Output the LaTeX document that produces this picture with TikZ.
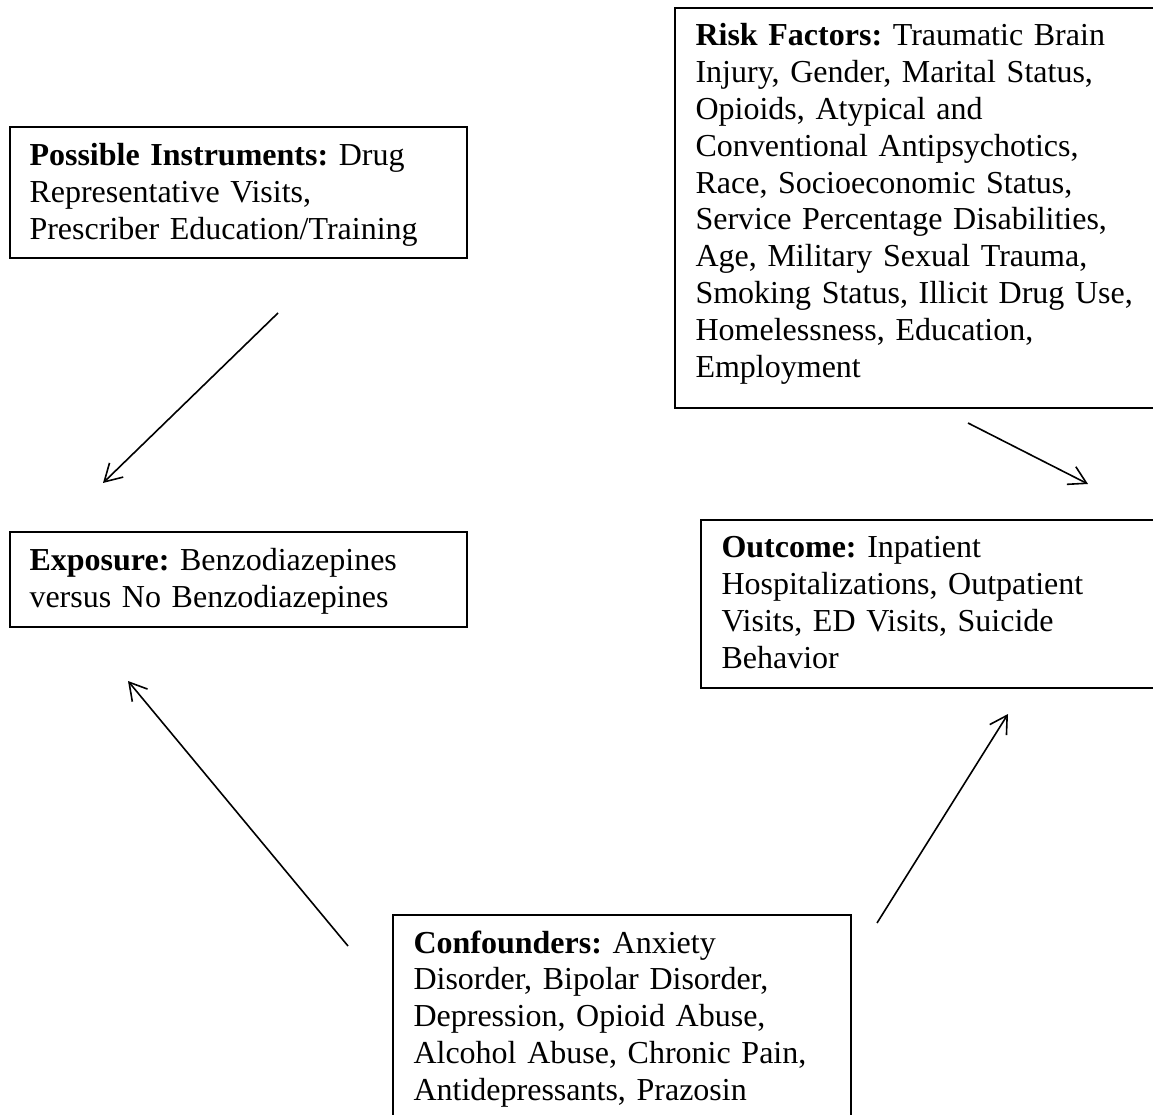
\documentclass[tikz,border=0pt]{standalone}
\usepackage{fontspec}
\setmainfont{Liberation Serif}
\usetikzlibrary{arrows.meta}
\frenchspacing
\begin{document}
\begin{tikzpicture}[x=0.375pt,y=-0.375pt,
  frame/.style={draw, line width=0.8pt, anchor=north west, inner sep=0pt},
  txt/.style={anchor=base west, inner sep=0pt, text width=180pt, align=left,
    font=\fontsize{12pt}{13.8pt}\selectfont},
  link/.style={line width=0.6pt, -{Straight Barb[length=6.4pt,width=7.4pt,line width=0.6pt]}}]
\clip (0,0) rectangle (1153,1115);
% boxes
\node[frame, minimum width=171.4pt, minimum height=49.1pt] (inst) at (9,126) {};
\node[txt] (instT) at (29,166) {\textbf{Possible Instruments:} Drug\\Representative Visits,\\Prescriber Education/Training};

\node[frame, minimum width=190pt, minimum height=150pt] (risk) at (674,7) {};
\node[txt] (riskT) at (695,46) {\textbf{Risk Factors:} Traumatic Brain\\Injury, Gender, Marital Status,\\Opioids, Atypical and\\Conventional Antipsychotics,\\Race, Socioeconomic Status,\\Service Percentage Disabilities,\\Age, Military Sexual Trauma,\\Smoking Status, Illicit Drug Use,\\Homelessness, Education,\\Employment};

\node[frame, minimum width=171.4pt, minimum height=35.6pt] (expo) at (9,531) {};
\node[txt] (expoT) at (29,571) {\textbf{Exposure:} Benzodiazepines\\versus No Benzodiazepines};

\node[frame, minimum width=180pt, minimum height=63pt] (outc) at (700,519) {};
\node[txt] (outcT) at (721,558) {\textbf{Outcome:} Inpatient\\Hospitalizations, Outpatient\\Visits, ED Visits, Suicide\\Behavior};

\node[frame, minimum width=171.75pt, minimum height=85pt] (conf) at (392,914) {};
\node[txt] (confT) at (413,953) {\textbf{Confounders:} Anxiety\\Disorder, Bipolar Disorder,\\Depression, Opioid Abuse,\\Alcohol Abuse, Chronic Pain,\\Antidepressants, Prazosin};

% arrow end points
\coordinate (a1s) at (278,313);
\coordinate (a1e) at (103,483);
\coordinate (a2s) at (968,423);
\coordinate (a2e) at (1088,484);
\coordinate (a3s) at (348,946);
\coordinate (a3e) at (128,681);
\coordinate (a4s) at (877,923);
\coordinate (a4e) at (1008,714);
\draw[link] (a1s) -- (a1e);
\draw[link] (a2s) -- (a2e);
\draw[link] (a3s) -- (a3e);
\draw[link] (a4s) -- (a4e);
\end{tikzpicture}
\end{document}
